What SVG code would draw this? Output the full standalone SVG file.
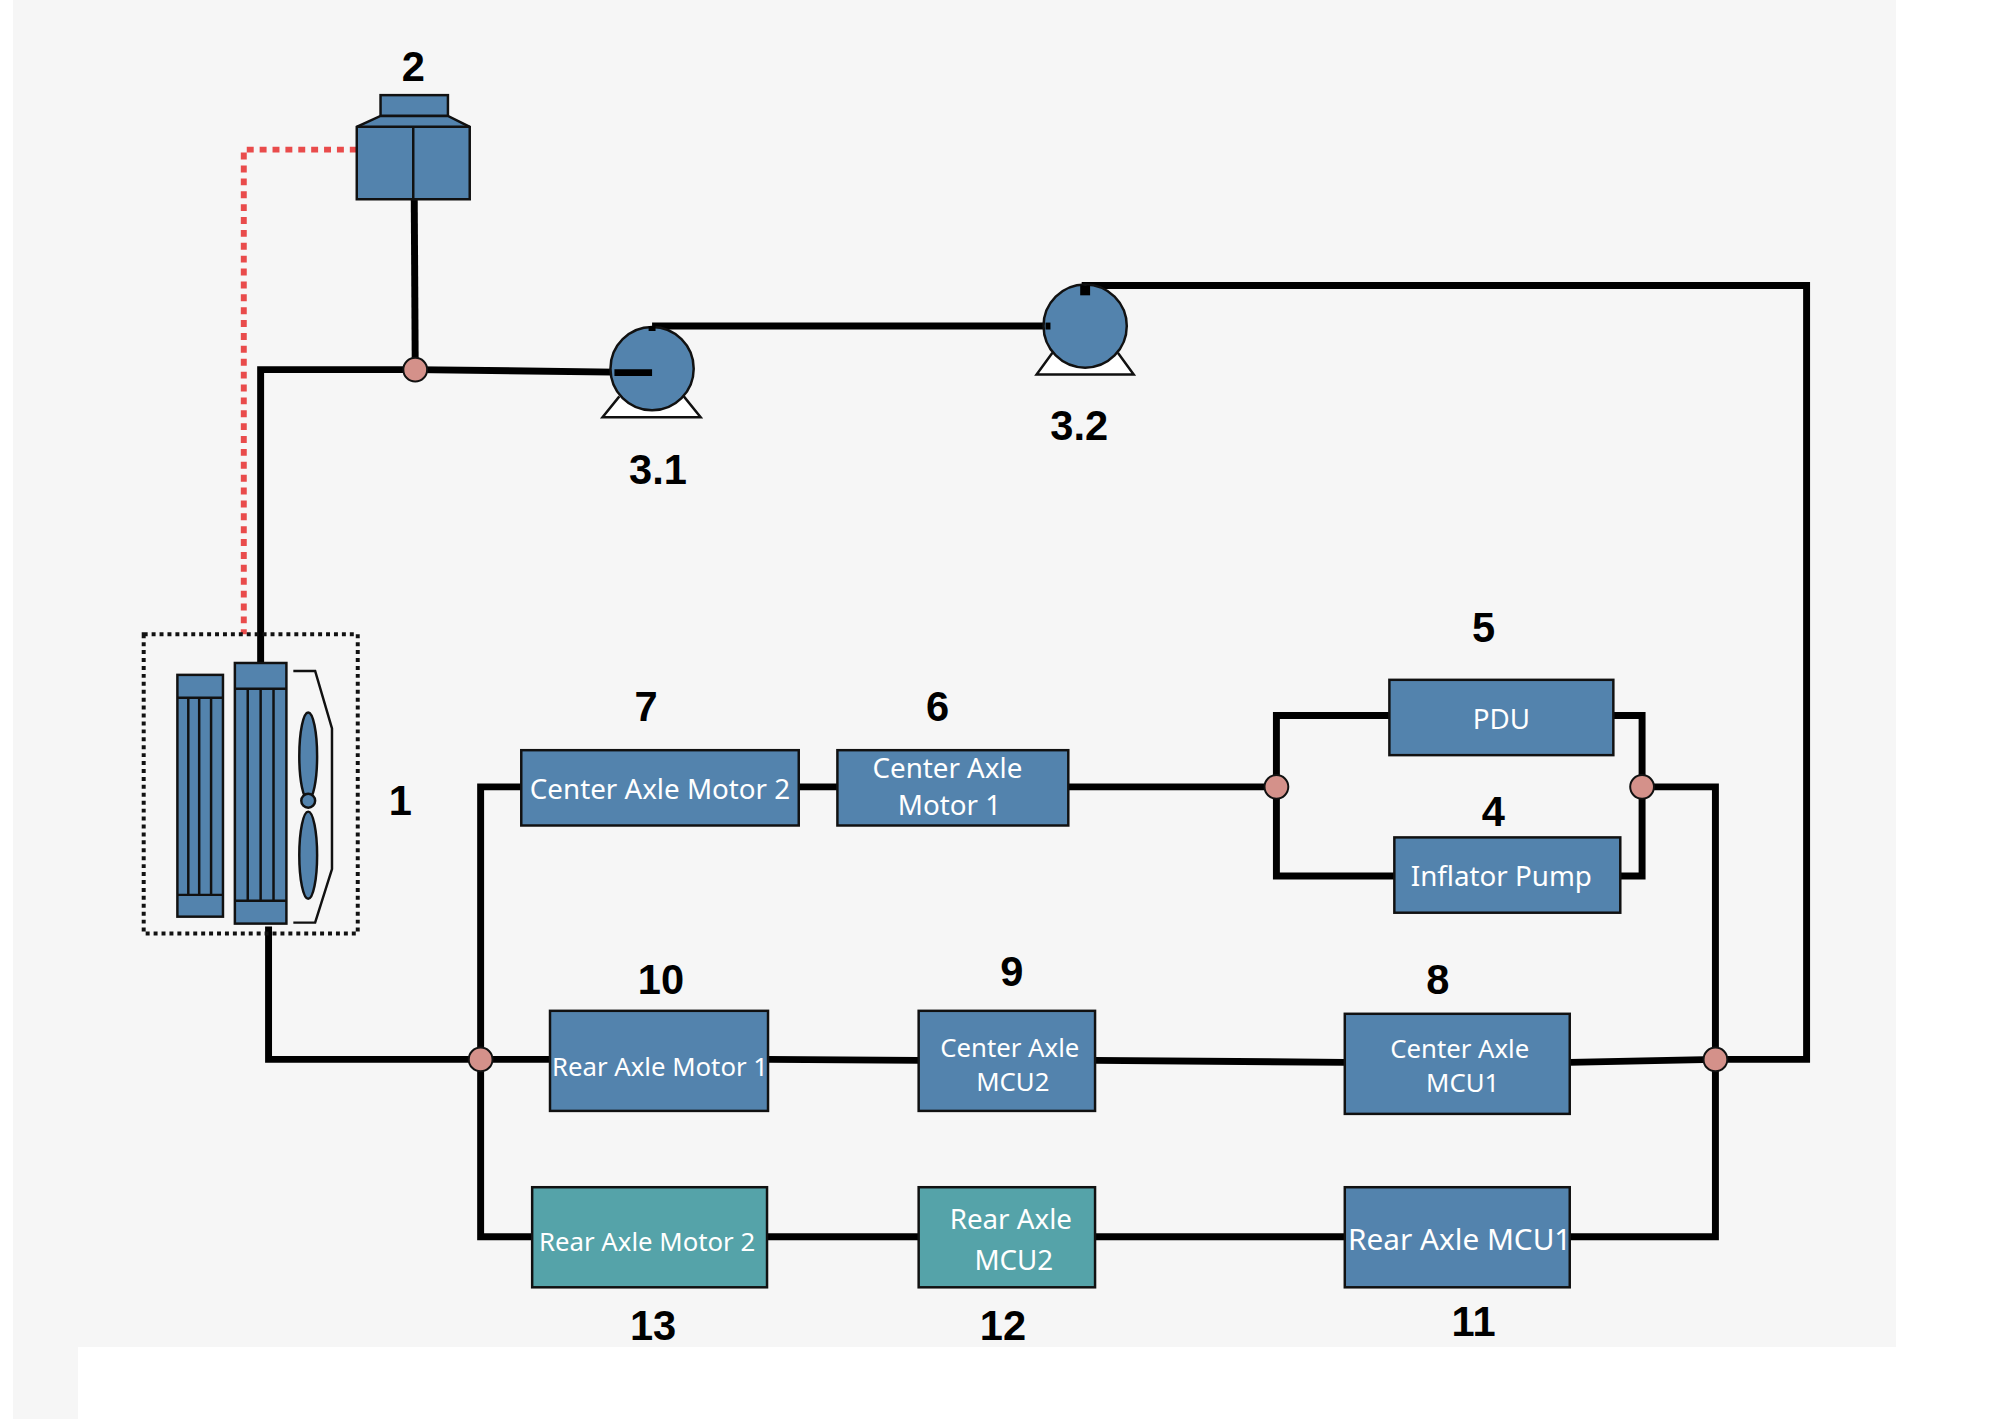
<svg xmlns="http://www.w3.org/2000/svg" width="2009" height="1419" viewBox="0 0 2009 1419">
<style>
.pipe{fill:none;stroke:#000;stroke-width:7}
.box{stroke:#111;stroke-width:2.5}
.b{fill:#5383ad}
.t{fill:#55a3a9}
.j{fill:#d4918a;stroke:#111;stroke-width:2}
.lbl{font-family:"Noto Sans","Liberation Sans",sans-serif;font-size:28px;fill:#fff;text-anchor:middle}
.num{font-family:"Liberation Sans",Arial,sans-serif;font-weight:bold;font-size:42px;fill:#000;text-anchor:middle}
.ol{fill:#5383ad;stroke:#111;stroke-width:2.5}
</style>
<rect width="2009" height="1419" fill="#fff"/>
<rect x="13" y="0" width="1883" height="1347" fill="#f6f6f6"/>
<rect x="13" y="1347" width="65" height="72" fill="#f6f6f6"/>
<g transform="scale(0.991)">
<g id="connectors">
<path d="M360 151 H246 V640" fill="none" stroke="#e94b4b" stroke-width="6" stroke-dasharray="7 6"/>
<path class="pipe" d="M418 201 L419 370"/>
<path class="pipe" d="M263 668 V373 H419 L658 376"/>
<path class="pipe" d="M658 329 H1055"/>
<path class="pipe" d="M1095 292 V288 H1823 V1069 H1731"/>
<path class="pipe" d="M271 935 V1069 H555"/>
<path class="pipe" d="M526 794 H485 V1248 H537"/>
<path class="pipe" d="M806 794 H845"/>
<path class="pipe" d="M1078 794 H1288"/>
<path class="pipe" d="M1402 722 H1288 V884 H1407"/>
<path class="pipe" d="M1628 722 H1657 V884 H1635"/>
<path class="pipe" d="M1657 794 H1731 V1248 H1584"/>
<path class="pipe" d="M775 1069 L927 1070"/>
<path class="pipe" d="M1105 1070 L1357 1072"/>
<path class="pipe" d="M1584 1072 L1731 1069"/>
<path class="pipe" d="M774 1248 H927"/>
<path class="pipe" d="M1105 1248 H1357"/>
</g>
<g id="n2">
<rect class="ol" x="384" y="96" width="68" height="21"/>
<path class="ol" d="M384 117 H452 L474 128 V201 H360 V128 Z"/>
<path d="M360 128 H474 M417 128 V201" stroke="#111" stroke-width="2.5"/>
<text class="num" x="417" y="82">2</text>
</g>
<g id="n3-1">
<path d="M625 400 L608 421 H707 L690 400" fill="#fff" stroke="#111" stroke-width="2.5"/>
<circle class="ol" cx="658" cy="372" r="42"/>
<path class="pipe" d="M620 376 H658"/>
<path class="pipe" d="M658 334 V329"/>
<text class="num" x="664" y="488">3.1</text>
</g>
<g id="n3-2">
<path d="M1062 356 L1046 378 H1144 L1128 356" fill="#fff" stroke="#111" stroke-width="2.5"/>
<circle class="ol" cx="1095" cy="329" r="42"/>
<path class="pipe" d="M1055 329 H1060"/>
<path d="M1090 288 H1100 V298 H1090 Z" fill="#000"/>
<text class="num" x="1089" y="444">3.2</text>
</g>
<g id="n1">
<rect x="145" y="640" width="216" height="302" fill="none" stroke="#111" stroke-width="4" stroke-dasharray="4 4"/>
<rect class="ol" x="179" y="681" width="46" height="244"/>
<path d="M179 704 H225 M179 903 H225 M190 704 V903 M201 704 V903 M213 704 V903" stroke="#111" stroke-width="2.5"/>
<rect class="ol" x="237" y="669" width="52" height="263"/>
<path d="M237 695 H289 M237 909 H289 M250 695 V909 M263 695 V909 M276 695 V909" stroke="#111" stroke-width="2.5"/>
<ellipse class="ol" cx="311" cy="763" rx="9" ry="44"/>
<ellipse class="ol" cx="311" cy="863" rx="9" ry="44"/>
<circle class="ol" cx="311" cy="808" r="7"/>
<path d="M296 677 H318 L335 735 V877 L318 931 H296" fill="none" stroke="#111" stroke-width="2.5"/>
<text class="num" x="404" y="822">1</text>
</g>
<g id="n7"><rect class="box b" x="526" y="757" width="280" height="76"/><text class="lbl" x="666" y="806">Center Axle Motor 2</text><text class="num" x="652" y="728">7</text></g>
<g id="n6"><rect class="box b" x="845" y="757" width="233" height="76"/><text class="lbl" x="956" y="785">Center Axle</text><text class="lbl" x="958" y="822">Motor 1</text><text class="num" x="946" y="728">6</text></g>
<g id="n5"><rect class="box b" x="1402" y="686" width="226" height="76"/><text class="lbl" x="1515" y="736">PDU</text><text class="num" x="1497" y="648">5</text></g>
<g id="n4"><rect class="box b" x="1407" y="845" width="228" height="76"/><text class="lbl" x="1515" y="894">Inflator Pump</text><text class="num" x="1507" y="833">4</text></g>
<g id="n10"><rect class="box b" x="555" y="1020" width="220" height="101"/><text class="lbl" x="666" y="1086" style="font-size:26px">Rear Axle Motor 1</text><text class="num" x="667" y="1003">10</text></g>
<g id="n9"><rect class="box b" x="927" y="1020" width="178" height="101"/><text class="lbl" x="1019" y="1067" style="font-size:26px">Center Axle</text><text class="lbl" x="1022" y="1101" style="font-size:26px">MCU2</text><text class="num" x="1021" y="995">9</text></g>
<g id="n8"><rect class="box b" x="1357" y="1023" width="227" height="101"/><text class="lbl" x="1473" y="1068" style="font-size:26px">Center Axle</text><text class="lbl" x="1476" y="1102" style="font-size:26px">MCU1</text><text class="num" x="1451" y="1003">8</text></g>
<g id="n13"><rect class="box t" x="537" y="1198" width="237" height="101"/><text class="lbl" x="653" y="1262" style="font-size:26px">Rear Axle Motor 2</text><text class="num" x="659" y="1352">13</text></g>
<g id="n12"><rect class="box t" x="927" y="1198" width="178" height="101"/><text class="lbl" x="1020" y="1240">Rear Axle</text><text class="lbl" x="1023" y="1282">MCU2</text><text class="num" x="1012" y="1352">12</text></g>
<g id="n11"><rect class="box b" x="1357" y="1198" width="227" height="101"/><text class="lbl" x="1473" y="1261" style="font-size:30px">Rear Axle MCU1</text><text class="num" x="1487" y="1348">11</text></g>
<g id="junctions">
<circle class="j" cx="419" cy="373" r="12"/>
<circle class="j" cx="485" cy="1069" r="12"/>
<circle class="j" cx="1288" cy="794" r="12"/>
<circle class="j" cx="1657" cy="794" r="12"/>
<circle class="j" cx="1731" cy="1069" r="12"/>
</g>
</g>
</svg>
